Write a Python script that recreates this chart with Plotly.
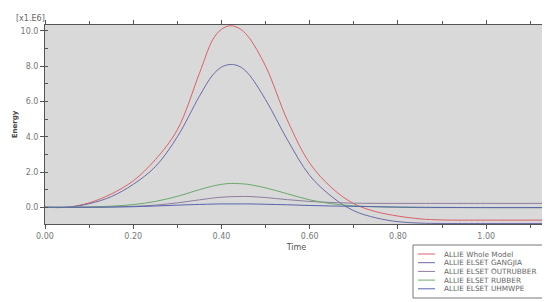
import plotly.graph_objects as go

# time (s) and internal energy ALLIE (x1.E6)
time = [0, 0.05, 0.1, 0.15, 0.2, 0.25, 0.3, 0.35, 0.38, 0.4, 0.42, 0.44, 0.46, 0.5,
        0.55, 0.6, 0.65, 0.7, 0.75, 0.8, 0.85, 0.9, 1.0, 1.14]

whole_model = [0, 0, 0.25, 0.75, 1.5, 2.7, 4.4, 7.6, 9.5, 10.1, 10.3, 10.15, 9.7, 8.0,
               4.9, 2.5, 1.1, 0.2, -0.25, -0.5, -0.66, -0.72, -0.73, -0.73]
gangjia = [0, 0, 0.2, 0.6, 1.3, 2.3, 4.0, 6.3, 7.5, 7.95, 8.1, 8.0, 7.6, 6.1,
           3.8, 1.8, 0.6, -0.2, -0.6, -0.82, -0.9, -0.92, -0.92, -0.92]
outrubber = [0, 0, 0, 0.02, 0.05, 0.12, 0.25, 0.42, 0.52, 0.57, 0.6, 0.61, 0.61, 0.55,
             0.43, 0.33, 0.27, 0.23, 0.22, 0.22, 0.22, 0.22, 0.22, 0.22]
rubber = [0, 0, 0.02, 0.06, 0.15, 0.33, 0.62, 1.0, 1.2, 1.3, 1.35, 1.34, 1.3, 1.1,
          0.76, 0.42, 0.2, 0.08, 0.03, 0.0, -0.02, -0.02, -0.02, -0.02]
uhmwpe = [0, 0, 0, 0.01, 0.03, 0.07, 0.12, 0.16, 0.18, 0.19, 0.19, 0.19, 0.19, 0.17,
          0.14, 0.1, 0.07, 0.05, 0.03, 0.01, 0, -0.01, -0.02, -0.02]

series = [
    ("ALLIE Whole Model", whole_model, "#d9606a"),
    ("ALLIE ELSET GANGJIA", gangjia, "#6c6aa6"),
    ("ALLIE ELSET OUTRUBBER", outrubber, "#8e7c9e"),
    ("ALLIE ELSET RUBBER", rubber, "#6aa86a"),
    ("ALLIE ELSET UHMWPE", uhmwpe, "#5664b0"),
]

fig = go.Figure()
for name, vals, color in series:
    fig.add_trace(
        go.Scatter(
            x=time,
            y=vals,
            mode="lines",
            name=name,
            line=dict(color=color, width=1, shape="spline", smoothing=1.0),
            showlegend=False,
        )
    )

axis_font = dict(family="DejaVu Sans", size=8, color="#777777")

fig.update_layout(
    width=550,
    height=302,
    margin=dict(l=37, r=10, t=17, b=86),
    paper_bgcolor="white",
    plot_bgcolor="#d9d9d9",
    font=axis_font,
    showlegend=False,
    xaxis=dict(
        range=[0, 1.14],
        tickvals=[0, 0.2, 0.4, 0.6, 0.8, 1.0],
        ticktext=["0.00", "0.20", "0.40", "0.60", "0.80", "1.00"],
        ticks="outside",
        ticklen=4,
        tickcolor="#555555",
        minor=dict(dtick=0.1, ticks="outside", ticklen=3, tickcolor="#555555"),
        showgrid=False,
        zeroline=False,
        showline=True,
        linecolor="#555555",
        mirror="ticks",
        automargin=False,
        title=dict(text="Time", font=dict(size=8, color="#555555"), standoff=4),
    ),
    yaxis=dict(
        range=[-0.95, 10.34],
        tickvals=[0, 2, 4, 6, 8, 10],
        ticktext=["0.0", "2.0", "4.0", "6.0", "8.0", "10.0"],
        ticks="outside",
        ticklen=4,
        tickcolor="#555555",
        minor=dict(dtick=1, ticks="inside", ticklen=3, tickcolor="#555555"),
        showgrid=False,
        zeroline=False,
        showline=True,
        linecolor="#555555",
        mirror="ticks",
        automargin=False,
        title=dict(text="<b>Energy</b>", font=dict(size=7, color="#444444"), standoff=2),
    ),
)

fig.add_annotation(
    text="[x1.E6]",
    xref="paper", yref="paper",
    x=0, y=1,
    xanchor="right", yanchor="bottom",
    xshift=2, yshift=0,
    showarrow=False,
    font=dict(family="DejaVu Sans", size=8, color="#666666"),
)

# legend box drawn in pixel-like paper coordinates below the plot
plot_w, plot_h = 550 - 37 - 10, 302 - 17 - 86


def px_x(px):
    return (px - 37) / plot_w


def px_y(py):
    return (302 - 86 - py) / plot_h


fig.add_shape(
    type="rect", xref="paper", yref="paper",
    x0=px_x(405), x1=px_x(549), y0=px_y(290), y1=px_y(237),
    line=dict(color="#777777", width=1), fillcolor="white",
)
for i, (name, vals, color) in enumerate(series):
    row_y = 241 + 5 + i * 8.7
    fig.add_shape(
        type="line", xref="paper", yref="paper",
        x0=px_x(410), x1=px_x(427), y0=px_y(row_y), y1=px_y(row_y),
        line=dict(color=color, width=1),
    )
    fig.add_annotation(
        text=name, xref="paper", yref="paper",
        x=px_x(434), y=px_y(row_y),
        xanchor="left", yanchor="middle", showarrow=False,
        font=dict(family="DejaVu Sans", size=7.3, color="#666666"),
    )

fig.write_html("out.html")
